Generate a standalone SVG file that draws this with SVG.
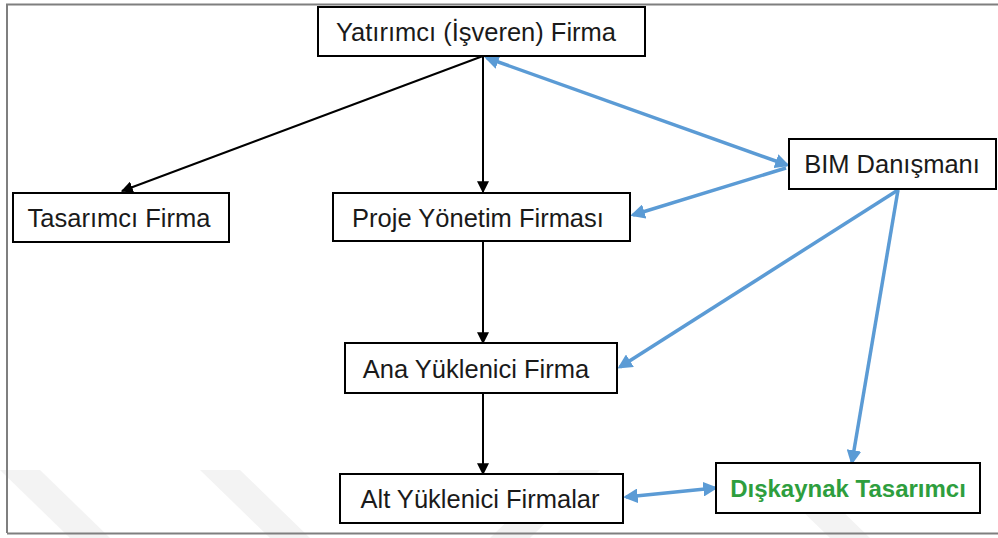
<svg xmlns="http://www.w3.org/2000/svg" width="998" height="538" viewBox="0 0 998 538">
<defs>
<style>
.box{fill:#fff;stroke:#000;stroke-width:2}
.t{font-family:"Liberation Sans",Arial,sans-serif;font-size:25.5px;fill:#1a1a1a;text-anchor:middle}
.k{stroke:#000;stroke-width:2;fill:none}
.b{stroke:#5B9BD5;stroke-width:3.5;fill:none}
.wm{fill:#f3f3f3}
</style>
<marker id="ak" viewBox="0 0 10 10" refX="9" refY="5" markerWidth="6" markerHeight="6" orient="auto-start-reverse" markerUnits="strokeWidth"><path d="M0,0 L10,5 L0,10 z" fill="#000"/></marker>
<marker id="ab" viewBox="0 0 10 10" refX="8" refY="5" markerWidth="4.2" markerHeight="4.2" orient="auto-start-reverse" markerUnits="strokeWidth"><path d="M0,0 L10,5 L0,10 z" fill="#5B9BD5"/></marker>
</defs>
<rect width="998" height="538" fill="#fff"/>
<g id="watermark">
<polygon class="wm" points="0,470 40,470 110,538 70,538"/>
<polygon class="wm" points="200,470 240,470 310,538 270,538"/>
<polygon class="wm" points="560,470 600,470 530,538 490,538"/>
<polygon class="wm" points="760,470 800,470 870,538 830,538"/>
</g>
<path d="M7,533 V4.5 H998 M7,533.5 H998" stroke="#7f7f7f" stroke-width="2" fill="none"/>
<g id="connectors">
<line class="k" x1="483" y1="56" x2="122" y2="191" marker-end="url(#ak)"/>
<line class="k" x1="483" y1="56" x2="483" y2="192" marker-end="url(#ak)"/>
<line class="k" x1="483" y1="242" x2="483" y2="343" marker-end="url(#ak)"/>
<line class="k" x1="483" y1="393" x2="483" y2="474" marker-end="url(#ak)"/>
<line class="b" x1="487" y1="58" x2="787" y2="165" marker-start="url(#ab)" marker-end="url(#ab)"/>
<line class="b" x1="786" y1="168" x2="633" y2="215" marker-end="url(#ab)"/>
<line class="b" x1="898" y1="190" x2="620" y2="367" marker-end="url(#ab)"/>
<line class="b" x1="898" y1="190" x2="852" y2="462" marker-end="url(#ab)"/>
<line class="b" x1="626" y1="497" x2="715" y2="488" marker-start="url(#ab)" marker-end="url(#ab)"/>
</g>
<g id="yatirimci"><rect class="box" x="318" y="7" width="327" height="49"/><text class="t" x="476" y="41">Yatırımcı (İşveren) Firma</text></g>
<g id="tasarimci"><rect class="box" x="13" y="193" width="216" height="49"/><text class="t" x="119" y="227">Tasarımcı Firma</text></g>
<g id="proje"><rect class="box" x="333" y="193" width="297" height="48"/><text class="t" x="478" y="227">Proje Yönetim Firması</text></g>
<g id="bim"><rect class="box" x="789" y="139" width="207" height="50"/><text class="t" x="892" y="173">BIM Danışmanı</text></g>
<g id="ana"><rect class="box" x="345" y="343" width="272" height="50"/><text class="t" x="476" y="378">Ana Yüklenici Firma</text></g>
<g id="alt"><rect class="box" x="340" y="474" width="283" height="49"/><text class="t" x="480" y="508">Alt Yüklenici Firmalar</text></g>
<g id="diskaynak"><rect class="box" x="716" y="463" width="264" height="50"/><text class="t" x="848" y="497" style="fill:#2E9E3E;font-weight:bold;font-size:24px">Dışkaynak Tasarımcı</text></g>
</svg>
